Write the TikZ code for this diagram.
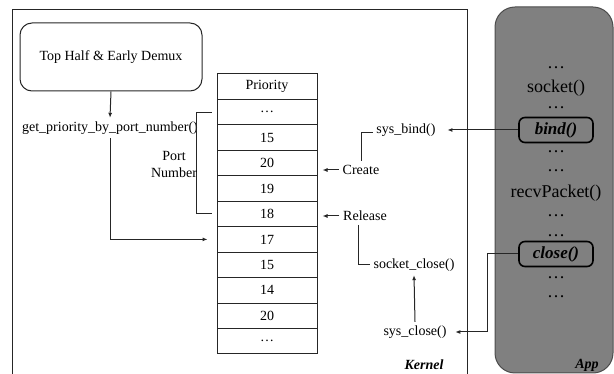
\documentclass[tikz,border=0pt]{standalone}
\usepackage{fontspec}
\setmainfont{Liberation Serif}
\usetikzlibrary{arrows.meta}

\definecolor{appgray}{RGB}{128,128,128}

\tikzset{
  cell/.style={draw, minimum width=100pt, minimum height=25.45pt, inner sep=0pt},
  call/.style={draw=black, line width=1.6pt, rounded corners=6pt, minimum width=74pt, minimum height=25pt, inner sep=0pt, font=\fontsize{17}{19}\selectfont\bfseries\itshape},
  apptext/.style={font=\fontsize{18}{20}\selectfont},
}

\begin{document}
\begin{tikzpicture}[x=1pt, y=-1pt, line width=1pt, draw=black!85, >={Latex[length=5pt,width=4pt]}, font=\fontsize{14}{16}\selectfont] % pixel grid, y runs down
\useasboundingbox (0,0) rectangle (614,374);

% kernel side
\draw (12,374) -- (12,10) -- (467,10) -- (467,374);
\node [font=\fontsize{14}{16}\selectfont\bfseries\itshape] (kernel) at (424,365) {Kernel};

\node [draw, rounded corners=12pt, minimum width=182pt, minimum height=68pt] (demux) at (111,57) {Top Half \& Early Demux};
\node (getprio) at (110,128) {get\_priority\_by\_port\_number()};

\node [cell] (r0) at (267,86.7) {Priority};
\node [cell] (r1) at (267,112.2) {\ldots};
\node [cell] (r2) at (267,137.6) {15};
\node [cell] (r3) at (267,163.1) {20};
\node [cell] (r4) at (267,188.5) {19};
\node [cell] (r5) at (267,214) {18};
\node [cell] (r6) at (267,239.4) {17};
\node [cell] (r7) at (267,264.9) {15};
\node [cell] (r8) at (267,290.3) {14};
\node [cell] (r9) at (267,315.8) {20};
\node [cell] (r10) at (267,341.2) {\ldots};

\draw [->] (demux.south) -- (getprio.north);
\draw [->] (getprio.south) |- ([xshift=-9pt]r6.west);

\draw ([xshift=-5pt]r1.west) -- ++(-15,0) |- ([xshift=-5pt]r5.west);
\node [align=center, font=\fontsize{14}{17}\selectfont] (port) at (174,164) {Port\\Number};

\node (sysbind) at (406,130) {sys\_bind()};
\node (create) at (361,170) {Create};
\node (release) at (365,216) {Release};
\node (sockclose) at (414,265) {socket\_close()};
\node (sysclose) at (415,332) {sys\_close()};

\draw [->] (create.west) -- ([xshift=5pt]create.west -| r3.east);
\draw [->] (release.west) -- ([xshift=5pt]release.west -| r5.east);
\draw ([yshift=-3pt]sysbind.west) -| (create.north);
\draw ([xshift=-7pt]release.south) |- (sockclose.west);
\draw [->] (sysclose.north) -- (sockclose.south);

% app side
\draw [fill=appgray, draw=black!70, rounded corners=20pt] (495,7) rectangle (613,373);

\node [apptext] (d1) at (556,68) {\ldots};
\node [apptext] (socket) at (556,88) {socket()};
\node [apptext] (d2) at (556,108) {\ldots};
\node [call] (bind) at (556,130) {bind()};
\node [apptext] (d3) at (556,152) {\ldots};
\node [apptext] (d4) at (556,171) {\ldots};
\node [apptext] (recv) at (556,193) {recvPacket()};
\node [apptext] (d5) at (556,216) {\ldots};
\node [apptext] (d6) at (556,236) {\ldots};
\node [call] (close) at (556,254) {close()};
\node [apptext] (d7) at (556,278) {\ldots};
\node [apptext] (d8) at (556,297) {\ldots};
\node [font=\fontsize{14}{16}\selectfont\bfseries\itshape] (app) at (587,365) {App};

\draw [->, shorten >=8pt] (bind.west) -- (sysbind.east);
\draw [->, shorten >=5pt] (close.west) -- ++(-31,0) |- (sysclose.east);

\end{tikzpicture}
\end{document}
